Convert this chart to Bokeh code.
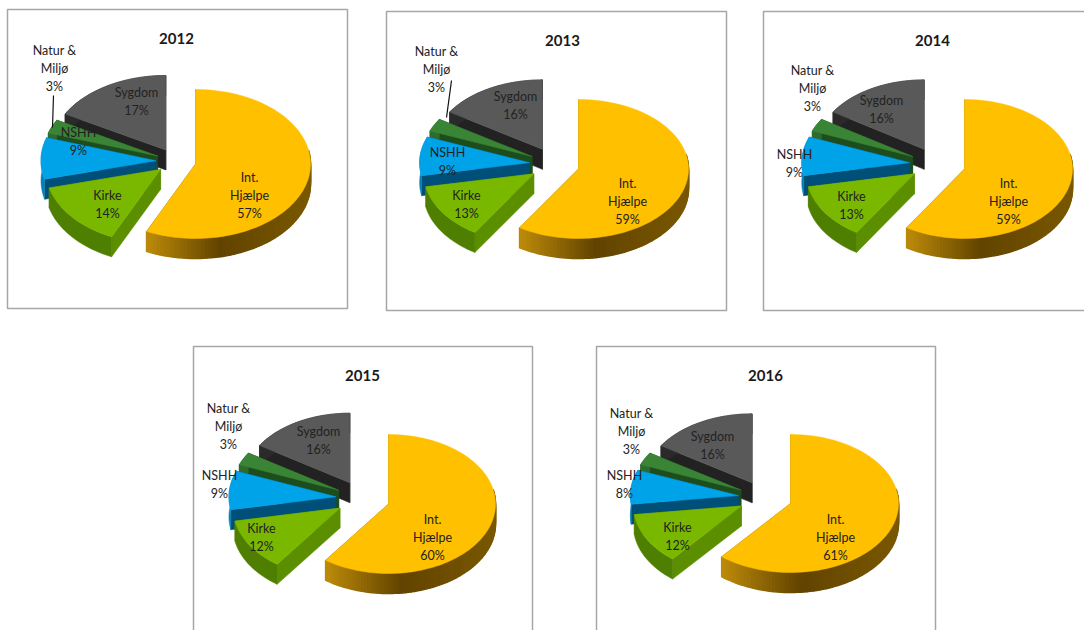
import math
from bokeh.embed import file_html
from bokeh.models import Range1d
from bokeh.plotting import figure
from bokeh.resources import INLINE
from bokeh.core.properties import value

years = ["2012", "2013", "2014", "2015", "2016"]
int_hjaelpe = [57, 59, 59, 60, 61]
kirke = [14, 13, 13, 12, 12]
nshh = [9, 9, 9, 9, 8]
natur = [3, 3, 3, 3, 3]
sygdom = [17, 16, 16, 16, 16]

# layout: main-slice apex x,y, radii, depth, explosion a,b
GEOM = [
    (195, 163.5, 115, 74.5, 20, 20, 13),
    (578, 168.5, 110, 69.5, 20, 25, 17),
    (964, 168.5, 108, 69.5, 20, 28, 17),
    (388, 503.5, 107, 69.5, 20, 27, 18),
    (790, 503, 108, 69, 20, 27, 17),
]
PANELS = [(7, 9, 347, 308), (386, 11, 726, 310), (763, 11, 1110, 310),
          (193, 346, 532, 660), (596, 346, 935, 660)]
TITLES = [(176, 38), (562, 40), (932, 40), (362, 375), (765, 375)]
LABELS = [
    {"i": (249, 177), "k": (107, 195), "n": (78, 132), "m": (54, 50), "s": (136, 92)},
    {"i": (627, 183), "k": (466, 195), "n": (447, 152), "m": (436, 51), "s": (515, 96)},
    {"i": (1008, 183), "k": (851, 196), "n": (794, 154), "m": (812, 70), "s": (881, 100)},
    {"i": (432, 519), "k": (261, 528), "n": (219, 475), "m": (228, 408), "s": (318, 431)},
    {"i": (835, 519), "k": (677, 527), "n": (624, 475), "m": (631, 413), "s": (712, 436)},
]
LEADERS = [((53, 95), (52, 127)), ((451, 80), (446, 117))]
LINE = 18

TOP = ["#FFC000", "#7AB800", "#00A2E8", "#3A8436", "#595959"]
EDGE = ["#8a6400", "#5C8F00", "#004F78", "#1D4D1D", "#222222"]
RIM = ["#8a6400", "#4F7F00", "#0082B8", "#2F6B2F", "#2a2a2a"]

W, H = 1084, 630
p = figure(width=W, height=H, output_backend="svg", toolbar_location=None,
           x_range=Range1d(0, W), y_range=Range1d(H, 0), min_border=0,
           outline_line_color=None, background_fill_color="white")
p.axis.visible = False
p.grid.visible = False

FONT = value("Lato")


def mix(c1, c2, t):
    return "#%02x%02x%02x" % tuple(round(c1[i] + (c2[i] - c1[i]) * t) for i in range(3))


def wall_color(u):
    gold, brown, mid = (190, 140, 10), (98, 68, 0), (122, 88, 0)
    if u < 0.45:
        return mix(gold, brown, u / 0.45)
    return mix(brown, mid, (u - 0.45) / 0.55)


for k in range(5):
    vals = [int_hjaelpe[k], kirke[k], nshh[k], natur[k], sygdom[k]]
    mx, my, rx, ry, d, a, b = GEOM[k]
    x0, y0, x1, y1 = PANELS[k]
    p.quad(left=x0, right=x1, top=y0, bottom=y1, fill_color="white",
           line_color="#A6A6A6", line_width=1.5)

    total = sum(vals)
    edges = [0]
    for v in vals:
        edges.append(edges[-1] + v / total * 2 * math.pi)
    m0 = (edges[0] + edges[1]) / 2
    cx = mx - a * math.sin(m0)
    cy = my + b * math.cos(m0)

    for i in range(4, -1, -1):
        t0, t1 = edges[i], edges[i + 1]
        m = (t0 + t1) / 2
        ax = cx + a * math.sin(m)
        ay = cy - b * math.cos(m)
        n = max(4, int((t1 - t0) / 0.03))
        th = [t0 + (t1 - t0) * j / n for j in range(n + 1)]
        ex = [ax + rx * math.sin(t) for t in th]
        ey = [ay - ry * math.cos(t) for t in th]
        # radial edge walls
        for rimx, rimy in ((ex[0], ey[0]), (ex[-1], ey[-1])):
            p.patch([ax, rimx, rimx, ax], [ay, rimy, rimy + d, ay + d],
                    fill_color=EDGE[i], line_color=EDGE[i], line_width=0.5)
        # outer rim wall
        if i == 0:
            span = max(ex) - ex[-1]
            for j in range(n):
                if math.cos((th[j] + th[j + 1]) / 2) > 0.2:
                    continue
                col = wall_color((ex[j] - ex[-1]) / span)
                p.patch([ex[j], ex[j + 1], ex[j + 1], ex[j]],
                        [ey[j], ey[j + 1], ey[j + 1] + d, ey[j] + d],
                        fill_color=col, line_color=col, line_width=1.5)
        else:
            p.patch(ex + ex[::-1], ey + [y + d for y in ey[::-1]],
                    fill_color=RIM[i], line_color=RIM[i], line_width=0.5)
        # top face
        p.patch([ax] + ex, [ay] + ey, fill_color=TOP[i], line_color=TOP[i], line_width=0.5)

    p.text([TITLES[k][0]], [TITLES[k][1]], text=[years[k]], text_font=FONT,
           text_font_style="bold", text_font_size="15px", text_color="#1a1a1a",
           text_align="center", text_baseline="middle")

    lab = LABELS[k]
    groups = [
        ("s", ["Sygdom", f"{sygdom[k]}%"]),
        ("m", ["Natur &", "Miljø", f"{natur[k]}%"]),
        ("n", ["NSHH", f"{nshh[k]}%"]),
        ("k", ["Kirke", f"{kirke[k]}%"]),
        ("i", ["Int.", "Hjælpe", f"{int_hjaelpe[k]}%"]),
    ]
    for key, lines in groups:
        lx, ly = lab[key]
        p.text([lx] * len(lines), [ly + LINE * j for j in range(len(lines))], text=lines,
               text_font=FONT, text_font_size="12.5px", text_color="#222222",
               text_align="center", text_baseline="middle")

for (xa, ya), (xb, yb) in LEADERS:
    p.line([xa, xb], [ya, yb], line_color="#111111", line_width=1.2)

open("out.html", "w").write(file_html(p, INLINE))
